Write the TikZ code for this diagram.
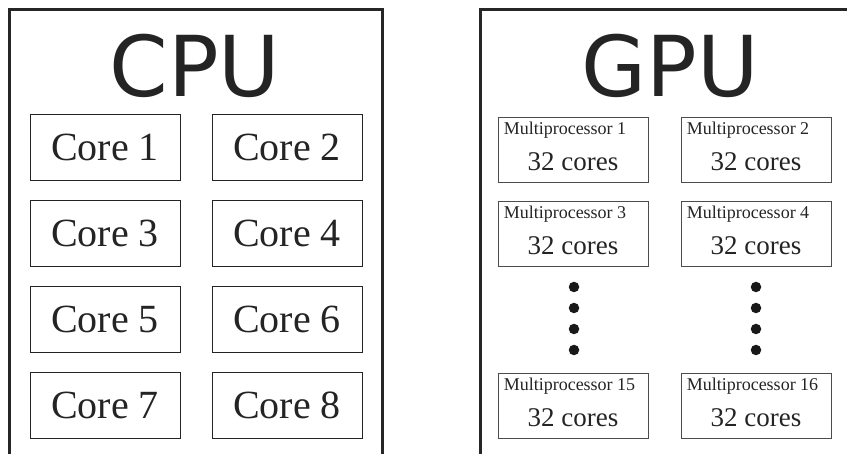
\documentclass[tikz,border=0pt]{standalone}
\usepackage{fontspec}
\setmainfont{Liberation Serif}
\newfontfamily\headfont{DejaVu Sans}
\begin{document}
\begin{tikzpicture}[x=1pt,y=-1pt,
  ink/.style={color=black!86},
  frame/.style={draw=black!85,line width=3pt},
  corebox/.style={draw=black!70,line width=0.9pt,minimum width=150pt,minimum height=66pt,
    inner sep=0pt,ink,font=\fontsize{40}{40}\selectfont},
  mpbox/.style={draw=black!70,line width=0.9pt,minimum width=150pt,minimum height=65pt,inner sep=0pt},
  mplabel/.style={anchor=base west,inner sep=0pt,ink,font=\fontsize{18}{18}\selectfont},
  mpcores/.style={inner sep=0pt,ink,font=\fontsize{27}{27}\selectfont},
  title/.style={anchor=base,inner sep=0pt,ink,font=\headfont\fontsize{84}{84}\selectfont},
  dot/.style={circle,fill=black!90,inner sep=0pt,minimum size=10.5pt}]
\useasboundingbox (0,0) rectangle (847,454);

% outer frames, open at the bottom
\coordinate (cpuBL) at (9,454);
\coordinate (cpuTL) at (9,9.5);
\coordinate (cpuTR) at (382,9.5);
\coordinate (cpuBR) at (382,454);
\draw[frame] (cpuBL) -- (cpuTL) -- (cpuTR) -- (cpuBR);
\coordinate (gpuBL) at (480,454);
\coordinate (gpuTL) at (480,9.5);
\coordinate (gpuTR) at (847,9.5);
\draw[frame] (gpuBL) -- (gpuTL) -- (gpuTR);

\node[title] (cpu) at (195,97) {CPU};
\node[title] (gpu) at (670,97) {GPU};

% CPU cores
\foreach \n/\x/\y in {1/105/147, 2/287/147, 3/105/233, 4/287/233,
                      5/105/319, 6/287/319, 7/105/405, 8/287/405}
  \node[corebox] (core\n) at (\x,\y) {Core \n};

% GPU multiprocessors
\foreach \n/\x/\y in {1/573/149.5, 2/756/149.5, 3/573/233.5, 4/756/233.5,
                      15/573/405.5, 16/756/405.5}{
  \node[mpbox] (mp\n) at (\x,\y) {};
  \node[mplabel] (mplab\n) at ([shift={(6pt,-18pt)}]mp\n.north west) {Multiprocessor \n};
  \node[mpcores] (mpc\n) at ([yshift=-12.5pt]mp\n.center) {32 cores};
}

% ellipsis dots between rows
\foreach \y [count=\i] in {287,308,329,350}{
  \node[dot] (dl\i) at (574,\y) {};
  \node[dot] (dr\i) at (756,\y) {};
}
\end{tikzpicture}
\end{document}
